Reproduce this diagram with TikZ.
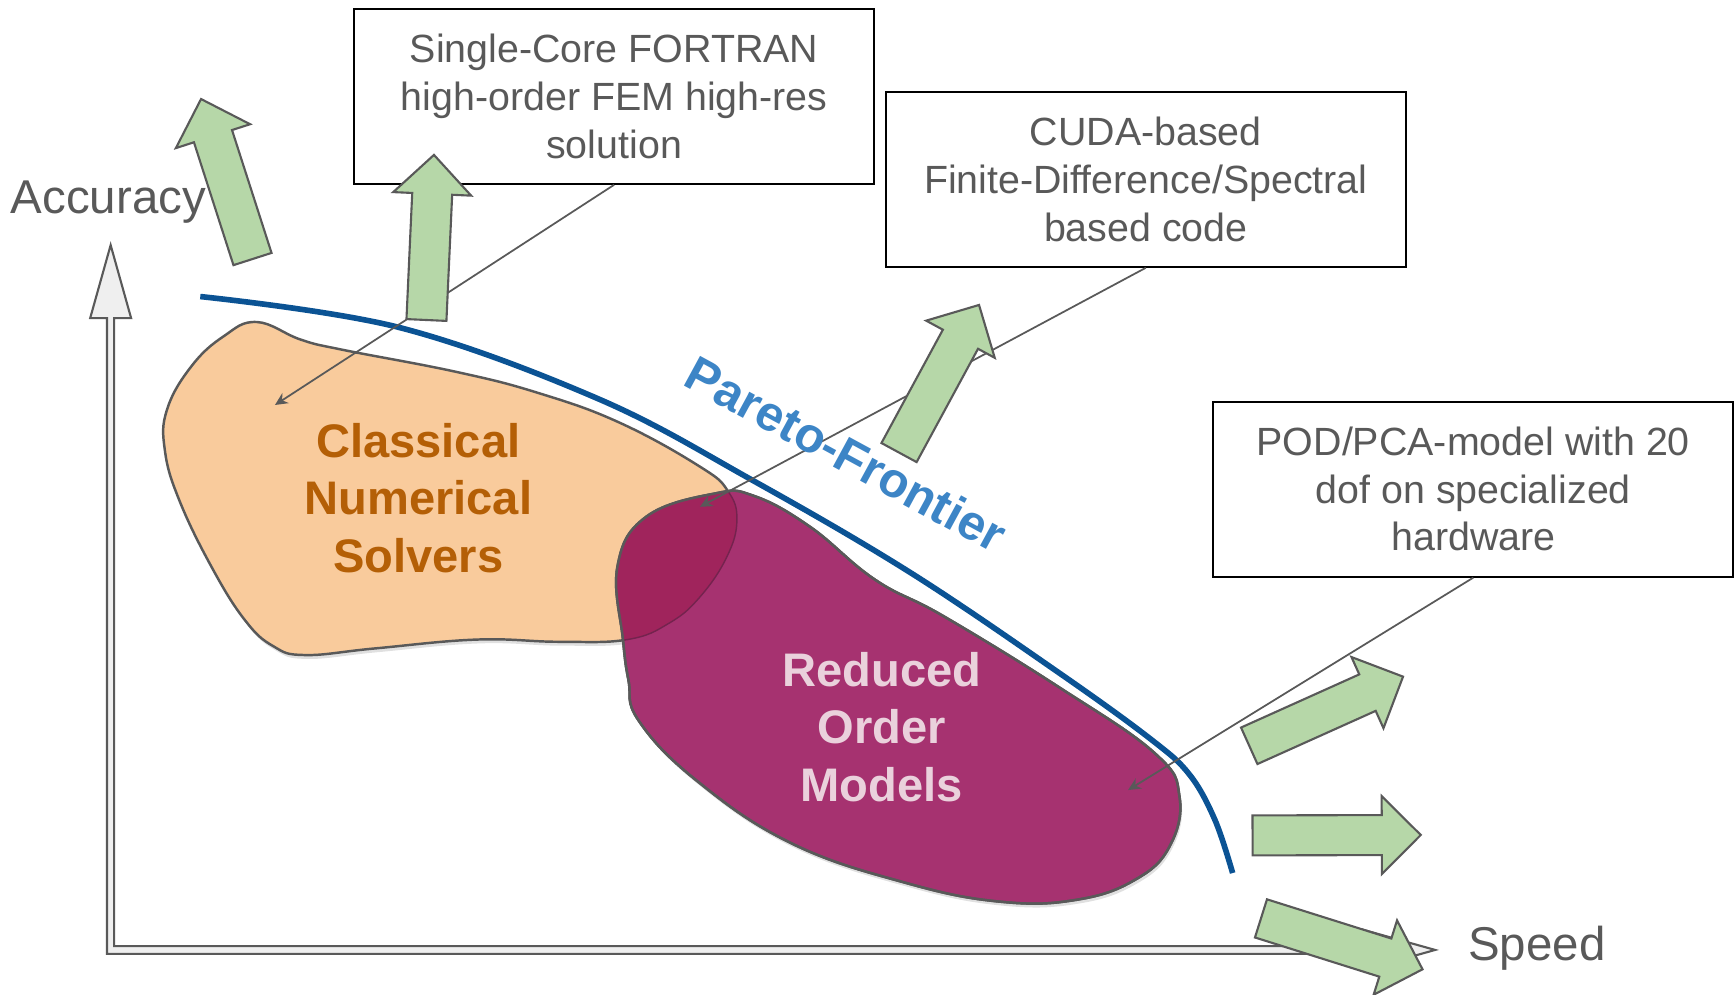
\documentclass[tikz,border=0pt]{standalone}
\usepackage{fontspec}
\setmainfont{Liberation Sans}
\usetikzlibrary{arrows.meta, positioning, calc}
\definecolor{textgray}{HTML}{595959}
\definecolor{arrowgreen}{HTML}{B6D7A8}
\definecolor{solverpeach}{HTML}{F9CB9C}
\definecolor{romplum}{HTML}{A63270}
\definecolor{overlapred}{HTML}{A0245C}
\definecolor{paretoblue}{HTML}{0B5394}
\definecolor{labelblue}{HTML}{3D85C6}
\definecolor{solverbrown}{HTML}{B45F06}
\definecolor{rompink}{HTML}{EAD1DC}
\definecolor{axisfill}{HTML}{EFEFEF}

\newcommand{\blockarrow}[3]{%
  \coordinate (#1-t) at #2;
  \coordinate (#1-p) at #3;
  \coordinate (#1-h) at ($(#1-p)!0.39cm!(#1-t)$);
  \draw[greenarrow] ($(#1-t)!0.2cm!90:(#1-p)$) -- ($(#1-h)!0.2cm!-90:(#1-t)$)
    -- ($(#1-h)!0.39cm!-90:(#1-t)$) -- (#1-p) -- ($(#1-h)!0.39cm!90:(#1-t)$)
    -- ($(#1-h)!0.2cm!90:(#1-t)$) -- ($(#1-t)!0.2cm!-90:(#1-p)$) -- cycle;
}
\newcommand{\solverpath}{plot[smooth cycle, tension=0.7] coordinates {(232,291) (272,307) (309,316) (412,336) (486,355) (560,382) (633,422) (658,444) (666,470) (657,503) (633,539) (605,563) (567,578) (505,580) (431,578) (339,586) (276,592) (247,584) (221,560) (191,512) (162,452) (149,407) (151,370) (173,331) (202,304)}}
\newcommand{\rompath}{plot[smooth cycle, tension=0.7] coordinates {(584,467) (646,446) (681,448) (732,476) (791,524) (853,557) (957,621) (1044,681) (1066,720) (1057,765) (1026,795) (974,813) (905,815) (819,798) (715,762) (629,705) (577,651) (568,615) (563,578) (558,512)}}

\begin{document}
\begin{tikzpicture}[x=0.11065mm, y=-0.11065mm,
    infobox/.style={rectangle, draw=black, line width=0.6pt, fill=white, minimum width=5.2cm, minimum height=1.75cm, align=center, text=textgray, font=\fontsize{11.2}{13.6}\selectfont},
    axislabel/.style={text=textgray, anchor=base, font=\fontsize{13.5}{16}\selectfont},
    bloblabel/.style={align=center, font=\bfseries\fontsize{13.4}{16.4}\selectfont},
    greenarrow/.style={draw=textgray, line width=0.6pt, fill=arrowgreen, line join=miter},
    leader/.style={draw=textgray, line width=0.5pt, -{Stealth[length=3.6pt, width=3.4pt]}},
    blob/.style={draw=textgray, line width=0.7pt},
    blobshadow/.style={fill=black, opacity=0.12, shift={(1.5,3.5)}}
]
\useasboundingbox (0,0) rectangle (1568,899);

\draw[draw=textgray, line width=0.6pt, fill=axisfill, line join=miter]
  (100,221.5) -- (118.5,287.5) -- (103.2,287.5) -- (103.2,855) -- (1231,855) -- (1231,840)
  -- (1297,858.5) -- (1231,877) -- (1231,862) -- (96.7,862) -- (96.7,287.5) -- (81.5,287.5) -- cycle;

\node[axislabel] (acc) at (98,192.5) {Accuracy};
\node[axislabel] (spd) at (1389,867.6) {Speed};

\fill[blobshadow] \solverpath;
\fill[blobshadow] \rompath;
\draw[blob, fill=solverpeach] \solverpath;
\draw[blob, fill=romplum] \rompath;
\begin{scope}
  \clip \rompath;
  \fill[overlapred] \solverpath;
  \draw[romplum!70!black, line width=0.4pt] \solverpath;
\end{scope}
\draw[blob] \rompath;

\draw[paretoblue, line width=1.6pt] plot[smooth, tension=0.6] coordinates {(181,268) (361,296) (542,361) (680,434) (822,517) (957,608) (1040,668) (1075,700) (1098,741) (1114,789)};

\node[infobox] (fortran) at (555,87) {Single-Core FORTRAN\\high-order FEM high-res\\solution};
\node[infobox] (cuda) at (1035.5,162) {CUDA-based\\Finite-Difference/Spectral\\based code};
\node[infobox] (pod) at (1331.5,442) {POD/PCA-model with 20\\dof on specialized\\hardware};

\coordinate (fortran-tip) at (248.5,366);
\coordinate (cuda-tip) at (632.6,458);
\coordinate (pod-tip) at (1019.5,714);
\draw[leader] (fortran.south) -- (fortran-tip);
\draw[leader] (cuda.south) -- (cuda-tip);
\draw[leader] (pod.south) -- (pod-tip);

\blockarrow{up1}{(228.2,234.1)}{(181.7,89.5)}
\blockarrow{up2}{(385.4,289.2)}{(392.2,140)}
\blockarrow{up3}{(812.5,409)}{(884.8,275.6)}
\blockarrow{right1}{(1129,674)}{(1268,611.5)}
\blockarrow{right2}{(1132,755)}{(1284,754.6)}
\blockarrow{right3}{(1139.6,830)}{(1285.6,876)}

\node[bloblabel, text=solverbrown] (solvers) at (378,450) {Classical\\Numerical\\Solvers};
\node[bloblabel, text=rompink] (rom) at (797,657) {Reduced\\Order\\Models};
\node[bloblabel, text=labelblue, rotate=-28.5, font=\bfseries\fontsize{14}{16.4}\selectfont] (pareto) at (765,410) {Pareto-Frontier};
\end{tikzpicture}
\end{document}
